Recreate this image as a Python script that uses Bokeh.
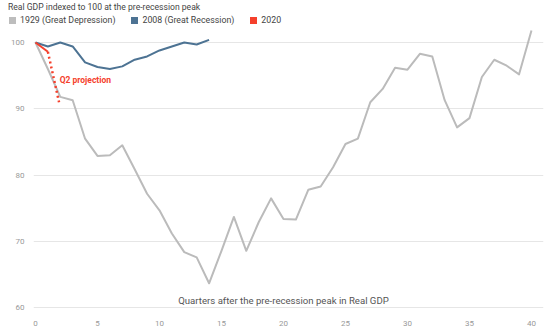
from bokeh.plotting import figure
from bokeh.layouts import column
from bokeh.models import Range1d, Label, FixedTicker, Div
from bokeh.embed import file_html
from bokeh.resources import INLINE

# Data (quarters after the pre-recession peak, Real GDP indexed to 100)
q1929 = list(range(0, 41))
gdp1929 = [100, 96.0, 91.8, 91.3, 85.5, 82.9, 83.0, 84.5, 80.9, 77.2,
           74.7, 71.2, 68.4, 67.6, 63.7, 68.6, 73.7, 68.6, 72.9, 76.5,
           73.4, 73.3, 77.8, 78.3, 81.2, 84.7, 85.5, 91.0, 93.0, 96.2,
           95.9, 98.3, 97.9, 91.3, 87.2, 88.6, 94.8, 97.4, 96.5, 95.2,
           101.8]
q2008 = list(range(0, 15))
gdp2008 = [100, 99.4, 100.0, 99.4, 97.0, 96.3, 96.0, 96.4, 97.4, 97.9,
           98.8, 99.4, 100.0, 99.7, 100.4]
q2020 = [0, 1]
gdp2020 = [100, 98.6]
q2020_proj = [1, 1.9]
gdp2020_proj = [98.6, 91.0]

y_ticks = [60, 70, 80, 90, 100]
x_ticks = [0, 5, 10, 15, 20, 25, 30, 35, 40]

labels = ["1929 (Great Depression)", "2008 (Great Recession)", "2020"]
colors = ["#bdbdbd", "#4d7393", "#f5402c"]
title_text = "Real GDP indexed to 100 at the pre-recession peak"

FONT = "Roboto"
TOP_H = 27

# ---- header: title + legend ----
items_html = "".join(
    f'<span style="display:inline-flex;align-items:center;margin-right:16px">'
    f'<span style="display:inline-block;width:7px;height:7px;background:{c};margin-right:4px"></span>'
    f'{l}</span>'
    for l, c in zip(labels, colors))
header_html = (
    f'<div style="position:relative;width:550px;height:{TOP_H}px;font-family:{FONT};color:#444444;">'
    f'<div style="position:absolute;left:8px;top:1px;font-size:8.6px;line-height:12px;white-space:nowrap">{title_text}</div>'
    f'<div style="position:absolute;left:9px;top:14px;font-size:8.8px;line-height:12px;white-space:nowrap;display:flex">{items_html}</div>'
    f'</div>')
hdr = Div(text=header_html, width=550, height=TOP_H, margin=(0, 0, 0, 0))

# ---- main chart ----
p = figure(width=550, height=332 - TOP_H, output_backend="svg", toolbar_location=None,
           x_range=Range1d(-0.16, 40.97), y_range=Range1d(59.6, 102.26),
           min_border_left=33, min_border_right=7, min_border_top=0,
           min_border_bottom=22)
p.outline_line_color = None

p.xgrid.grid_line_color = None
p.ygrid.grid_line_color = "#e6e6e6"
p.ygrid.grid_line_width = 1

for ax in (p.xaxis, p.yaxis):
    ax.axis_line_color = None
    ax.major_tick_line_color = None
    ax.minor_tick_line_color = None
    ax.major_label_text_color = "#999999"
    ax.major_label_text_font = FONT
    ax.major_label_text_font_size = "8px"
p.yaxis.ticker = FixedTicker(ticks=y_ticks)
p.xaxis.ticker = FixedTicker(ticks=x_ticks)
p.yaxis.major_label_standoff = 3
p.xaxis.major_label_standoff = 4

p.line(q1929, gdp1929, line_color="#bbbbbb", line_width=2, line_join="round")
p.line(q2008, gdp2008, line_color=colors[1], line_width=2, line_join="round")
p.line(q2020, gdp2020, line_color=colors[2], line_width=2)
p.line(q2020_proj, gdp2020_proj, line_color=colors[2], line_width=2.5, line_dash="2 3")

p.add_layout(Label(x=1.95, y=94.4, text="Q2 projection", text_color=colors[2],
                   text_font=FONT, text_font_size="8.5px", text_font_style="bold",
                   text_baseline="middle"))
p.add_layout(Label(x=20.0, y=61.1, text="Quarters after the pre-recession peak in Real GDP",
                   text_color="#555555", text_font=FONT, text_font_size="9.6px",
                   text_align="center", text_baseline="middle"))

layout = column(hdr, p, spacing=0)
open("out.html", "w").write(file_html(layout, INLINE))
